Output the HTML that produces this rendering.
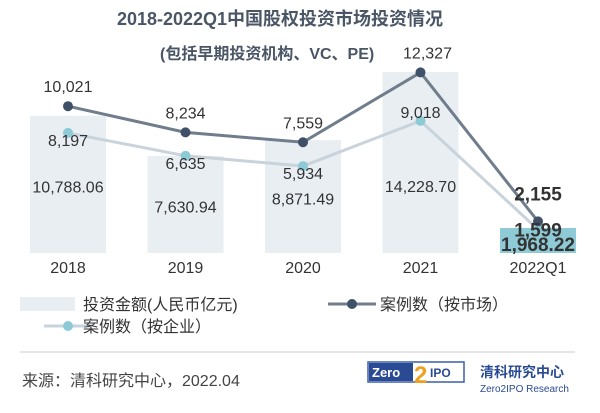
<!DOCTYPE html>
<html><head><meta charset="utf-8"><style>
body{margin:0;background:#fff;width:600px;height:408px;overflow:hidden;font-family:"Liberation Sans","Noto Sans CJK SC",sans-serif}
svg text{font-family:"Liberation Sans","Noto Sans CJK SC",sans-serif}
</style></head><body>
<svg id="c" width="600" height="408">
<text x="280" y="25" text-anchor="middle" font-size="18" font-weight="bold" fill="#4a5666">2018-2022Q1中国股权投资市场投资情况</text>
<text x="160" y="59" font-size="16" font-weight="bold" fill="#4a5666">(包括早期投资机构、VC、PE)</text>
<g id="bars"></g><g id="lines"></g><g id="labels"></g>
<g>
<rect x="20" y="297" width="55" height="14" fill="#e9eef2"/>
<text x="83" y="310" font-size="16" fill="#333">投资金额(人民币亿元)</text>
<line x1="328" y1="304" x2="376" y2="304" stroke="#6f7d8c" stroke-width="3"/>
<circle cx="352" cy="304" r="5" fill="#3f5068"/>
<text x="380" y="310" font-size="16" fill="#333">案例数（按市场）</text>
<line x1="44" y1="326" x2="92" y2="326" stroke="#c8d3dc" stroke-width="3"/>
<circle cx="68" cy="326" r="5" fill="#8ccbd6"/>
<text x="83" y="332" font-size="16" fill="#333">案例数（按企业）</text>
</g>
<line x1="20" y1="352" x2="575" y2="352" stroke="#ddd" stroke-width="1.5"/>
<text x="22" y="386" font-size="16" fill="#444">来源：清科研究中心，2022.04</text>
<g>
<rect x="368" y="362" width="96" height="20" fill="#fff" stroke="#3a5fa8" stroke-width="1.5"/>
<rect x="369" y="363" width="44" height="18" fill="#2a4a94"/>
<text x="372" y="377" font-size="13" font-weight="bold" fill="#fff" font-family="Liberation Mono">Zero</text>
<text x="414" y="383" font-size="24" font-weight="bold" fill="#f0a020">2</text>
<text x="430" y="377" font-size="12" font-weight="bold" fill="#2a4a94" font-family="Liberation Mono">IPO</text>
<text x="480" y="377" font-size="14" font-weight="bold" fill="#2a4a94">清科研究中心</text>
<text x="480" y="392" font-size="10" fill="#2a4a94">Zero2IPO Research</text>
</g>
</svg>
<script>
const categories=["2018","2019","2020","2021","2022Q1"];
const amounts=[10788.06,7630.94,8871.49,14228.70,1968.22];
const amountLabels=["10,788.06","7,630.94","8,871.49","14,228.70","1,968.22"];
const marketCases=[10021,8234,7559,12327,2155];
const marketLabels=["10,021","8,234","7,559","12,327","2,155"];
const entCases=[8197,6635,5934,9018,1599];
const entLabels=["8,197","6,635","5,934","9,018","1,599"];
const NS="http://www.w3.org/2000/svg";
const base=253;
const xPos=i=>68+i*117.5;
const yBar=v=>base-v*0.01272;
const yLine=v=>base-v*0.01465;
function mk(tag,attrs,parent,text){const e=document.createElementNS(NS,tag);for(const k in attrs)e.setAttribute(k,attrs[k]);if(text!==undefined)e.textContent=text;document.getElementById(parent).appendChild(e);return e;}
categories.forEach((c,i)=>{
 const last=i===categories.length-1;
 const b=mk('rect',{x:xPos(i)-38,y:yBar(amounts[i]),width:76,height:base-yBar(amounts[i]),fill:last?'#8ecbd6':'#e9eef2'},'bars');
 
 
 const t=mk('text',{x:xPos(i),y:273,'text-anchor':'middle','font-size':16,fill:'#333'},'labels',c);
 
 
});
function line(vals,color,mcolor,name){
 const p=mk('polyline',{points:vals.map((v,i)=>xPos(i)+','+yLine(v)).join(' '),fill:'none',stroke:color,'stroke-width':3},'lines');
 
 
 vals.forEach((v,i)=>{const m=mk('circle',{cx:xPos(i),cy:yLine(v),r:5,fill:mcolor},'lines');
 
 });
}
line(entCases,'#c8d3dc','#8ccbd6','enterprise');
line(marketCases,'#6f7d8c','#3f5068','market');
const n=categories.length;
for(let i=0;i<n-1;i++){
 let t=mk('text',{x:xPos(i),y:(i===3?192:base-(base-yBar(amounts[i]))/2+8),'text-anchor':'middle','font-size':16,fill:'#333'},'labels',amountLabels[i]);
 
 
 t=mk('text',{x:i===3?xPos(i)+7:xPos(i),y:yLine(marketCases[i])-14,'text-anchor':'middle','font-size':16,fill:'#333'},'labels',marketLabels[i]);
 
 
 t=mk('text',{x:xPos(i),y:yLine(entCases[i])+ (i===3?-3:13),'text-anchor':'middle','font-size':16,fill:'#333'},'labels',entLabels[i]);
 
 
}
const L=n-1,lx=xPos(L);
let t=mk('text',{x:lx,y:yLine(marketCases[L])-21,'text-anchor':'middle','font-size':19,'font-weight':'bold',fill:'#333'},'labels',marketLabels[L]);


t=mk('text',{x:lx,y:yLine(entCases[L])+7,'text-anchor':'middle','font-size':19,'font-weight':'bold',fill:'#333'},'labels',entLabels[L]);


t=mk('text',{x:lx,y:251,'text-anchor':'middle','font-size':19,'font-weight':'bold',fill:'#333'},'labels',amountLabels[L]);


</script>
</body></html>
